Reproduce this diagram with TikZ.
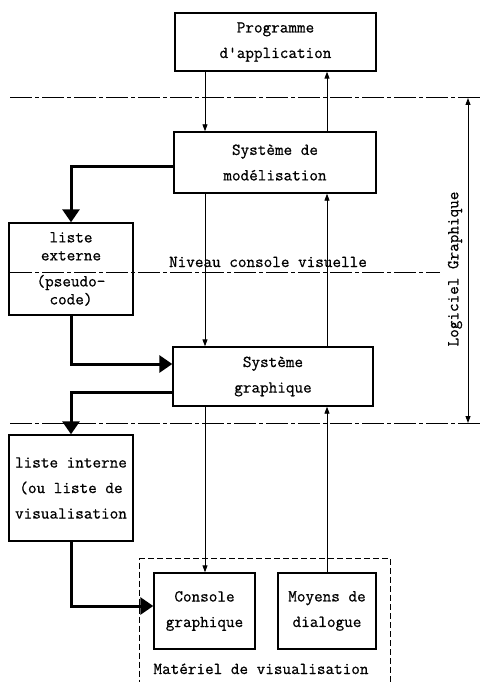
\documentclass[tikz,border=0pt]{standalone}
\usepackage{fontspec}
\usetikzlibrary{arrows.meta}
\newfontfamily\typewriter{Latin Modern Mono}[FakeBold=0.7]
\begin{document}
\begin{tikzpicture}[x=1pt,y=-1pt,
  every node/.style={font=\fontsize{16.7}{25.5}\selectfont\typewriter},
  box/.style={draw, line width=1.4pt, inner sep=0pt, align=center},
  thinarrow/.style={line width=0.9pt, -{Triangle[length=7pt,width=5pt]}},
  bothways/.style={line width=0.9pt, {Triangle[length=7pt,width=5pt]}-{Triangle[length=7pt,width=5pt]}},
  thickarrow/.style={line width=3pt, -{Triangle[length=13pt,width=17pt]}},
  level/.style={line width=1pt, dash pattern=on 22pt off 3pt on 4pt off 3pt},
  frame/.style={draw, line width=1.2pt, dash pattern=on 6pt off 3pt, inner sep=0pt}]
\useasboundingbox (0,0) rectangle (482,682);

% level separators
\coordinate (d1w) at (10,98);  \coordinate (d1e) at (482,98);
\coordinate (d2w) at (10,272); \coordinate (d2e) at (440,272);
\coordinate (d3w) at (10,423); \coordinate (d3e) at (482,423);
\draw[level] (d1w) -- (d1e);
\draw[level] (d2w) -- (d2e);
\draw[level] (d3w) -- (d3e);

% columns of the thin flows
\coordinate (xl) at (205,0);
\coordinate (xr) at (327,0);
\coordinate (xg) at (468,0);

% boxes
\node[box, minimum width=201, minimum height=58] (prog) at (275.5,42) {Programme\\d'application};
\node[box, minimum width=202, minimum height=61] (mod) at (275,162.5) {Système de\\modélisation};
\node[box, minimum width=200, minimum height=59] (graph) at (273,376.5) {Système\\graphique};
\node[box, minimum width=124, minimum height=92, font=\fontsize{16.7}{18}\selectfont\typewriter] (ext) at (71,269) {liste\\externe\\[8pt](pseudo-\\code)};
\node[box, minimum width=124, minimum height=106] (int) at (71,488) {liste interne\\(ou liste de\\visualisation};
\node[box, minimum width=101, minimum height=76] (console) at (204.5,611) {Console\\graphique};
\node[box, minimum width=98, minimum height=76] (moyens) at (327,611) {Moyens de\\dialogue};

% hardware frame (open towards the bottom edge)
\node[frame, minimum width=251, minimum height=160, anchor=north west] (hw) at (139,558) {};

% labels
\node[anchor=base] (niveau) at (268,267) {Niveau console visuelle};
\node[rotate=90] (logiciel) at (455,269) {Logiciel Graphique};
\node[anchor=base] (materiel) at (261,674) {Matériel de visualisation};

% thin flows
\draw[thinarrow] (prog.south -| xl) -- (mod.north -| xl);
\draw[thinarrow] (mod.north -| xr) -- (prog.south -| xr);
\draw[thinarrow] (mod.south -| xl) -- (graph.north -| xl);
\draw[thinarrow] (graph.north -| xr) -- (mod.south -| xr);
\draw[thinarrow] (graph.south -| xl) -- (console.north -| xl);
\draw[thinarrow] (moyens.north) -- (graph.south -| moyens.north);
\draw[bothways] (d1e -| xg) -- (d3e -| xg);

% thick flows through the lists
\draw[thickarrow] ([yshift=-3.5pt]mod.west) -| (ext.north);
\draw[thickarrow] (ext.south) |- ([yshift=12.5pt]graph.west);
\draw[thickarrow] ([yshift=-15.5pt]graph.west) -| (int.north);
\draw[thickarrow] (int.south) |- ([yshift=5pt]console.west);
\end{tikzpicture}
\end{document}
